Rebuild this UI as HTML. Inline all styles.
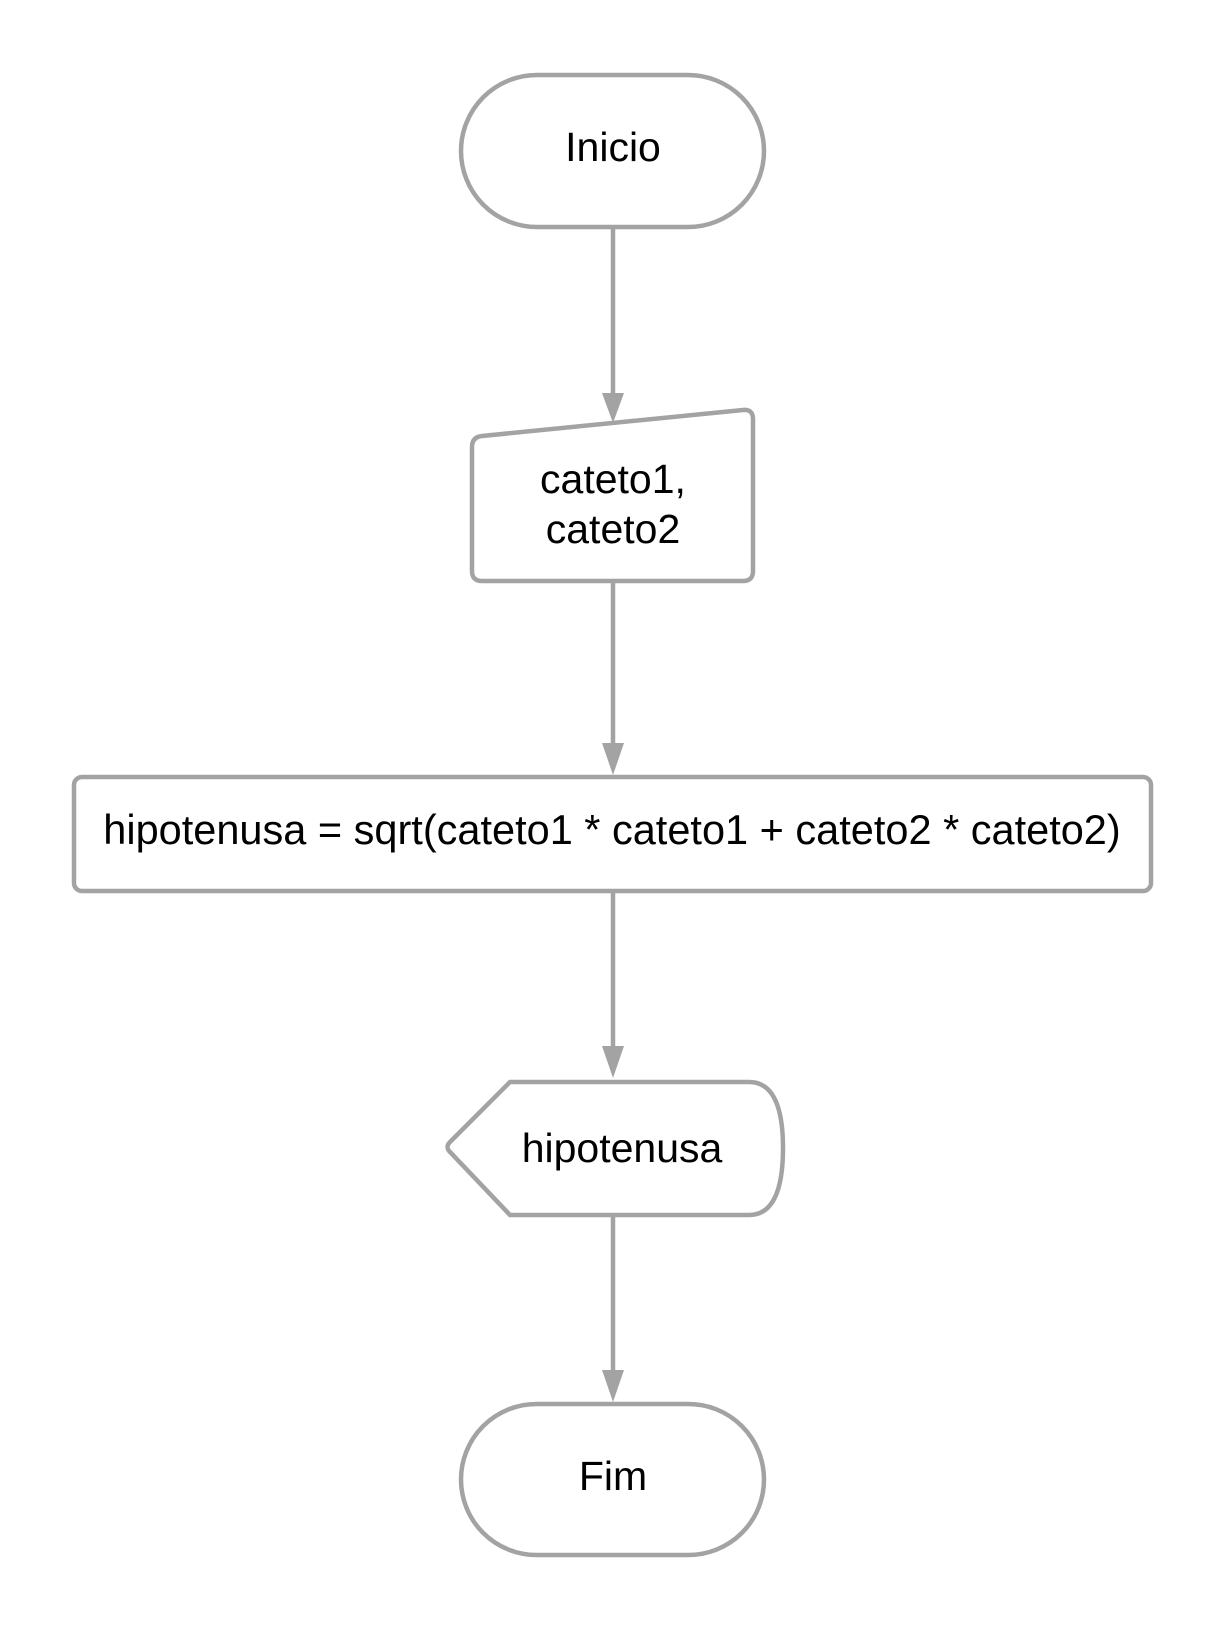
<!DOCTYPE html>
<html><head><style>html,body{margin:0;padding:0;background:#fff}</style></head>
<body>
<svg width="1224" height="1626" viewBox="0 0 1224 1626" xmlns="http://www.w3.org/2000/svg" font-family="Liberation Sans, Arial, sans-serif">
<g fill="none" stroke="#a3a3a3" stroke-width="4.5">
<rect x="461" y="75" width="303" height="152" rx="76"/>
<path d="M472 447 Q472 437 482 436 L743 410 Q753 409 753 419 L753 571 Q753 581 743 581 L482 581 Q472 581 472 571 Z"/>
<rect x="74" y="777" width="1077" height="114" rx="8"/>
<path d="M510 1082 L749 1082 Q783 1082 783 1148 Q783 1215 749 1215 L510 1215 L450 1152 Q445 1147 450 1142 Z"/>
<rect x="461" y="1404" width="303" height="151" rx="75.5"/>
<line x1="613" y1="227" x2="613" y2="397"/>
<line x1="613" y1="581" x2="613" y2="745"/>
<line x1="613" y1="891" x2="613" y2="1050"/>
<line x1="613" y1="1215" x2="613" y2="1372"/>
</g>
<g fill="#a3a3a3">
<polygon points="602,393 624,393 613,423"/>
<polygon points="602,743 624,743 613,775"/>
<polygon points="602,1046 624,1046 613,1078"/>
<polygon points="602,1370 624,1370 613,1402"/>
</g>
<g fill="#000" font-size="41" text-anchor="middle">
<text x="613" y="161">Inicio</text>
<text x="613" y="493">cateto1,</text>
<text x="613" y="543">cateto2</text>
<text x="612" y="844" font-size="41.5">hipotenusa = sqrt(cateto1 * cateto1 + cateto2 * cateto2)</text>
<text x="622" y="1162">hipotenusa</text>
<text x="613" y="1490">Fim</text>
</g>
</svg>
</body></html>
